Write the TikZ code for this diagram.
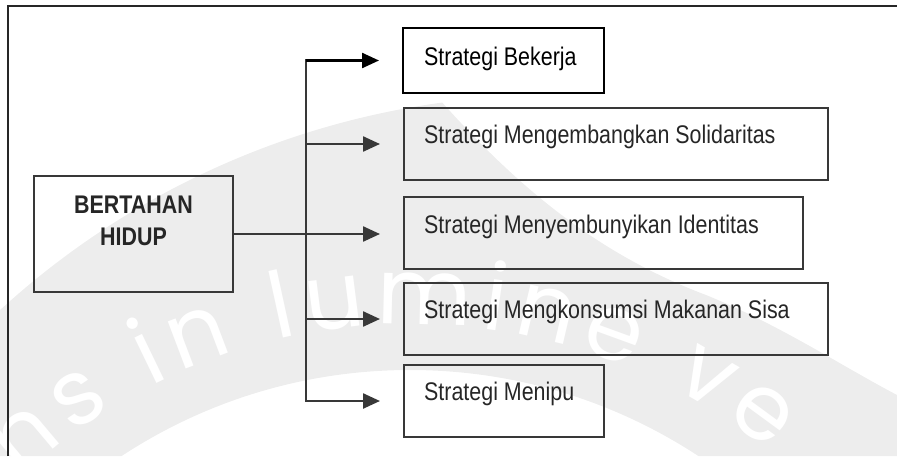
\documentclass[tikz,border=0pt]{standalone}
\usepackage{fontspec}
\setmainfont{Liberation Sans}[FakeStretch=0.84]
\newfontfamily\wmfam{Poppins}
\newcommand\wmfont{\wmfam\fontsize{92}{92}\selectfont}
\usetikzlibrary{arrows.meta,decorations.text}

\tikzset{
  frameline/.style={line width=2.2pt, draw=black!85, line join=miter},
  stratbox/.style={draw=black!78, line width=2.3pt, rectangle, inner sep=0pt, outer sep=0pt, anchor=north west},
  conn/.style={draw=black!78, line width=2.4pt},
  arr/.style={conn, -{Triangle[length=17pt,width=15pt]}},
  lbl/.style={anchor=base west, inner sep=0pt, text=black!85, font=\fontsize{25.5}{30}\selectfont},
  wmgray/.style={fill=black!7, draw=none},
}

\begin{document}
\begin{tikzpicture}[x=1pt, y=-1pt]
\useasboundingbox (0,0) rectangle (897,456);

% faint seal in the background
\begin{scope}
  \clip (0,0) rectangle (897,456);
  \begin{scope}[even odd rule]
    \clip (554,916) circle[radius=821] (410,896) circle[radius=526];
    \fill[wmgray] (0,0) -- (440,0) -- (440,100)
      .. controls (520,190) and (600,255) .. (706,295)
      .. controls (780,325) and (840,365) .. (897,395)
      -- (897,456) -- (0,456) -- cycle;
  \end{scope}
  \path[decorate, decoration={text along path, text align=fit to path,
      text={|\wmfont\color{white}|ns in lumine ve}}]
    (410,896) ++(-133:572) arc[start angle=-133, end angle=-51, radius=572];
\end{scope}

% outer frame (left and top edges)
\draw[frameline] (8,456) -- (8,6) -- (897,6);

% main box
\node[stratbox, minimum width=199pt, minimum height=116pt] (main) at (34,176) {};
\node[inner sep=0pt, align=center, text=black!85,
      font=\bfseries\fontsize{25.5}{32}\selectfont] (maintext) at (133.5,221) {BERTAHAN\\HIDUP};

% strategy boxes
\node[stratbox, draw=black, line width=2.6pt, minimum width=201pt, minimum height=65pt] (b1) at (403,28) {};
\node[stratbox, minimum width=424pt, minimum height=72pt] (b2) at (404,108) {};
\node[stratbox, minimum width=399pt, minimum height=72pt] (b3) at (404,197) {};
\node[stratbox, minimum width=424pt, minimum height=72pt] (b4) at (404,283) {};
\node[stratbox, minimum width=200pt, minimum height=72pt] (b5) at (404,365) {};

\node[lbl, text=black] (t1) at ([shift={(21,37)}]b1.north west) {Strategi Bekerja};
\node[lbl] (t2) at ([shift={(20,35)}]b2.north west) {Strategi Mengembangkan Solidaritas};
\node[lbl] (t3) at ([shift={(20,36)}]b3.north west) {Strategi Menyembunyikan Identitas};
\node[lbl] (t4) at ([shift={(20,35)}]b4.north west) {Strategi Mengkonsumsi Makanan Sisa};
\node[lbl] (t5) at ([shift={(20,35)}]b5.north west) {Strategi Menipu};

% connectors
\coordinate (T) at (306,0);
\draw[conn, line cap=rect] (b1.west -| T) -- (b5.west -| T);
\draw[arr, draw=black] (b1.west -| T) -- ([xshift=-24pt]b1.west);
\draw[arr] (b2.west -| T) -- ([xshift=-24pt]b2.west);
\draw[arr] (main.east) -- ([xshift=-24pt]b3.west |- main.east);
\draw[arr] (b4.west -| T) -- ([xshift=-24pt]b4.west);
\draw[arr] (b5.west -| T) -- ([xshift=-24pt]b5.west);
\end{tikzpicture}
\end{document}
